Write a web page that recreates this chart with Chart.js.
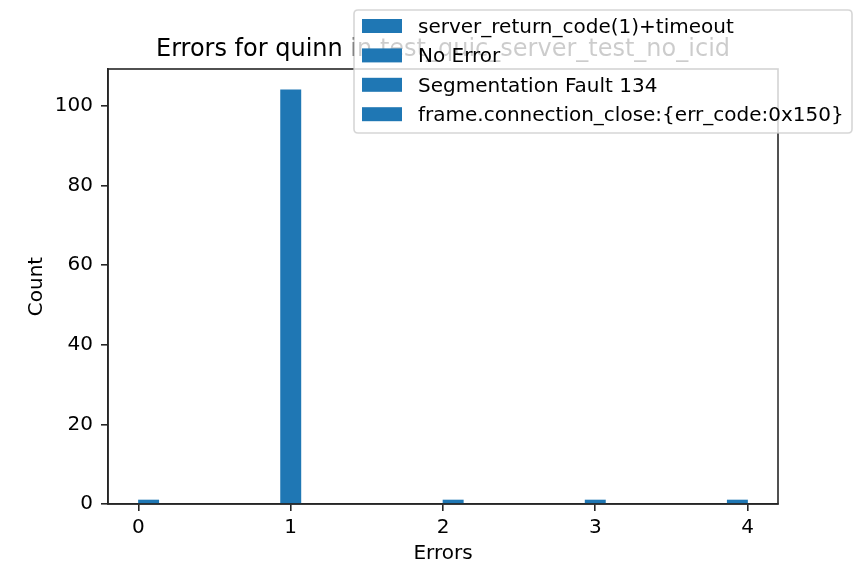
<!DOCTYPE html>
<html>
<head>
<meta charset="utf-8">
<script src="https://cdn.jsdelivr.net/npm/chart.js@4"></script>
<style>
html,body{margin:0;padding:0;background:#fff;}
#wrap{width:864px;height:576px;}
</style>
</head>
<body>
<div id="wrap"><canvas id="c" width="864" height="576"></canvas></div>
<script>
// ---- data ----
const chartTitle = 'Errors for quinn in test_quic_server_test_no_icid';
const xAxisLabel = 'Errors';
const yAxisLabel = 'Count';
const binCenters = [0.0667, 1.0, 2.0667, 3.0, 3.9333];
const binCounts = [1, 104, 1, 1, 1];
const legendLabels = [
  'server_return_code(1)+timeout',
  'No Error',
  'Segmentation Fault 134',
  'frame.connection_close:{err_code:0x150}'
];
const xRange = [-0.2, 4.2];
const yRange = [0, 109.2];

const FONT = "'DejaVu Sans', sans-serif";
const BLUE = '#1f77b4';
const SPINE = '#262626';

const framePlugin = {
  id: 'frame',
  afterDatasetsDraw(chart) {
    const a = chart.chartArea, ctx = chart.ctx;
    ctx.save();
    ctx.strokeStyle = SPINE;
    ctx.lineWidth = 1.6;
    ctx.strokeRect(a.left, a.top, a.right - a.left, a.bottom - a.top);
    ctx.restore();
  }
};

const legendPlugin = {
  id: 'mplLegend',
  afterDraw(chart) {
    const ctx = chart.ctx;
    const bx = 354, by = 10, bw = 498, bh = 123, r = 4;
    ctx.save();
    ctx.beginPath();
    ctx.moveTo(bx + r, by);
    ctx.lineTo(bx + bw - r, by);
    ctx.quadraticCurveTo(bx + bw, by, bx + bw, by + r);
    ctx.lineTo(bx + bw, by + bh - r);
    ctx.quadraticCurveTo(bx + bw, by + bh, bx + bw - r, by + bh);
    ctx.lineTo(bx + r, by + bh);
    ctx.quadraticCurveTo(bx, by + bh, bx, by + bh - r);
    ctx.lineTo(bx, by + r);
    ctx.quadraticCurveTo(bx, by, bx + r, by);
    ctx.closePath();
    ctx.fillStyle = 'rgba(255,255,255,0.8)';
    ctx.fill();
    ctx.strokeStyle = 'rgba(204,204,204,0.8)';
    ctx.lineWidth = 1.6;
    ctx.stroke();
    ctx.font = '20px ' + FONT;
    ctx.textBaseline = 'alphabetic';
    ctx.textAlign = 'left';
    legendLabels.forEach((lab, i) => {
      const cy = 26 + i * 29.4;
      ctx.fillStyle = BLUE;
      ctx.fillRect(362, cy - 7, 40, 14);
      ctx.fillStyle = '#000';
      ctx.fillText(lab, 418, cy + 7);
    });
    ctx.restore();
  }
};

new Chart(document.getElementById('c'), {
  type: 'bar',
  data: {
    datasets: [{
      data: binCenters.map((x, i) => ({x: x, y: binCounts[i]})),
      backgroundColor: BLUE,
      borderWidth: 0,
      barThickness: 20.3
    }]
  },
  options: {
    responsive: false,
    animation: false,
    devicePixelRatio: 1,
    layout: {padding: {left: 0, right: 86, top: 0, bottom: 0}},
    plugins: {
      legend: {display: false},
      tooltip: {enabled: false},
      title: {
        display: true,
        text: chartTitle,
        fullSize: false,
        color: '#000',
        font: {family: FONT, size: 24, weight: 'normal', lineHeight: 1.2},
        padding: {top: 35, bottom: 5.2}
      }
    },
    scales: {
      x: {
        type: 'linear',
        min: xRange[0],
        max: xRange[1],
        offset: false,
        afterFit(s) { s.height = 72; },
        ticks: {
          stepSize: 1,
          includeBounds: false,
          color: '#000',
          font: {family: FONT, size: 20},
          padding: 5,
          maxRotation: 0
        },
        grid: {display: true, offset: false, drawOnChartArea: false, drawTicks: true, tickLength: 7, color: SPINE, lineWidth: 1.6},
        border: {display: true, color: SPINE, width: 1.6},
        title: {display: true, text: xAxisLabel, color: '#000', font: {family: FONT, size: 20}, padding: {top: 0, bottom: 10}}
      },
      y: {
        type: 'linear',
        min: yRange[0],
        max: yRange[1],
        afterFit(s) { s.width = 108; },
        ticks: {
          stepSize: 20,
          includeBounds: false,
          color: '#000',
          font: {family: FONT, size: 20},
          padding: 8
        },
        grid: {display: true, offset: false, drawOnChartArea: false, drawTicks: true, tickLength: 7, color: SPINE, lineWidth: 1.6},
        border: {display: true, color: SPINE, width: 1.6},
        title: {display: true, text: yAxisLabel, color: '#000', font: {family: FONT, size: 20}, padding: {top: 25, bottom: 0}}
      }
    }
  },
  plugins: [framePlugin, legendPlugin]
});
</script>
</body>
</html>
